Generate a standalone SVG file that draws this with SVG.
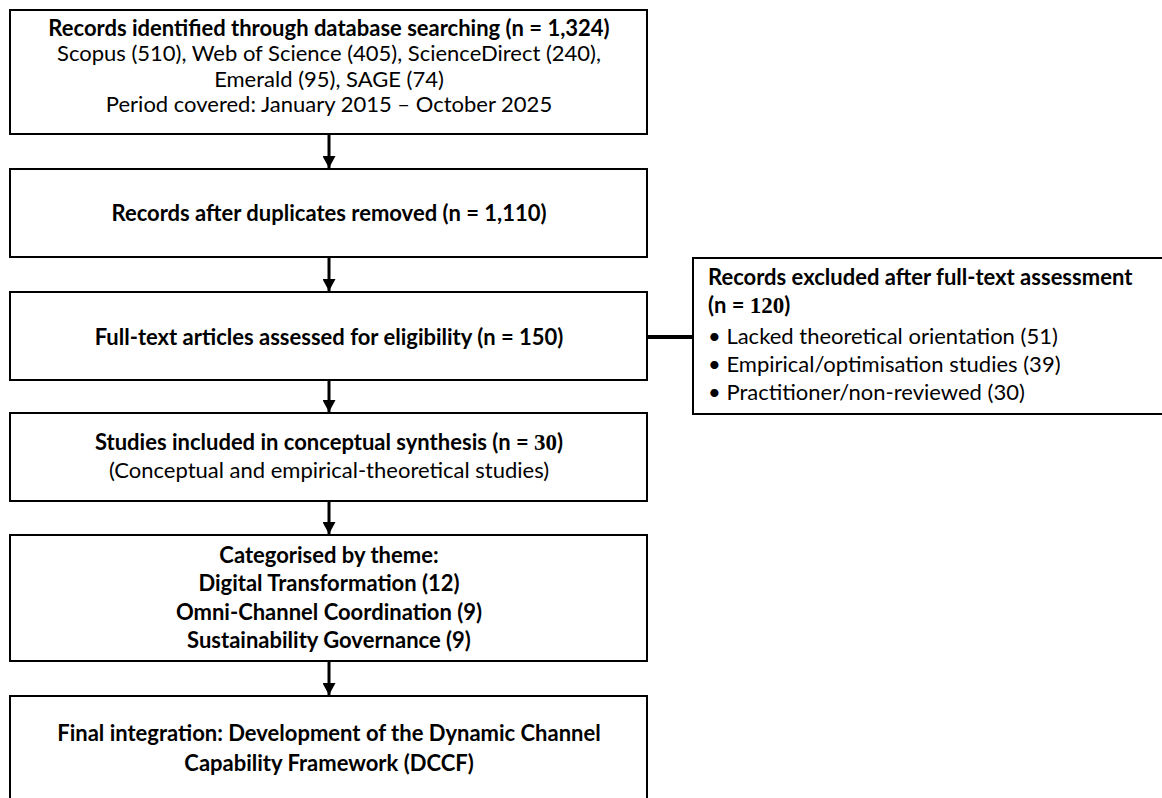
<svg xmlns="http://www.w3.org/2000/svg" width="1162" height="798" viewBox="0 0 1162 798">
<defs>
<style>
.box{fill:#ffffff;stroke:#000000;stroke-width:2}
.t{font-family:Lato,"Liberation Sans",sans-serif;font-size:22px;fill:#000000}
.b{font-weight:bold}
.c{text-anchor:middle}
.num{font-family:"Liberation Serif",serif;font-weight:bold;font-size:23px}
.conn{stroke:#000000;stroke-width:3;fill:none}
</style>
<marker id="ah" viewBox="0 0 12 13" refX="12" refY="6.5" markerWidth="12" markerHeight="13" markerUnits="userSpaceOnUse" orient="auto">
<path d="M0,0 L12,6.5 L0,13 Z" fill="#000000"/>
</marker>
</defs>
<rect width="1162" height="798" fill="#ffffff"/>
<g id="connectors">
<line class="conn" x1="329" y1="135" x2="329" y2="168" marker-end="url(#ah)"/>
<line class="conn" x1="329" y1="258" x2="329" y2="291" marker-end="url(#ah)"/>
<line class="conn" x1="329" y1="381" x2="329" y2="412" marker-end="url(#ah)"/>
<line class="conn" x1="329" y1="502" x2="329" y2="534" marker-end="url(#ah)"/>
<line class="conn" x1="329" y1="662" x2="329" y2="695" marker-end="url(#ah)"/>
<line x1="648" y1="337" x2="692" y2="337" stroke="#000000" stroke-width="4"/>
</g>
<g id="n1">
<rect class="box" x="10" y="10" width="637" height="124"/>
<text class="t b c" x="329" y="36">Records identified through database searching (n = 1,324)</text>
<text class="t c" x="329" y="61">Scopus (510), Web of Science (405), ScienceDirect (240),</text>
<text class="t c" x="329" y="86.5">Emerald (95), SAGE (74)</text>
<text class="t c" x="329" y="112">Period covered: January 2015 – October 2025</text>
</g>
<g id="n2">
<rect class="box" x="10" y="169" width="637" height="88"/>
<text class="t b c" x="329" y="221">Records after duplicates removed (n = 1,110)</text>
</g>
<g id="n3">
<rect class="box" x="10" y="292" width="637" height="88"/>
<text class="t b c" x="329" y="345">Full-text articles assessed for eligibility (n = 150)</text>
</g>
<g id="n4">
<rect class="box" x="10" y="413" width="637" height="88"/>
<text class="t b c" x="329" y="450">Studies included in conceptual synthesis (n = <tspan class="num">30</tspan>)</text>
<text class="t c" x="329" y="478">(Conceptual and empirical-theoretical studies)</text>
</g>
<g id="n5">
<rect class="box" x="10" y="535" width="637" height="126"/>
<text class="t b c" x="329" y="563">Categorised by theme:</text>
<text class="t b c" x="329" y="591">Digital Transformation (12)</text>
<text class="t b c" x="329" y="620">Omni-Channel Coordination (9)</text>
<text class="t b c" x="329" y="648">Sustainability Governance (9)</text>
</g>
<g id="n6">
<rect class="box" x="10" y="696" width="637" height="120"/>
<text class="t b c" x="329" y="741">Final integration: Development of the Dynamic Channel</text>
<text class="t b c" x="329" y="771">Capability Framework (DCCF)</text>
</g>
<g id="n7">
<rect class="box" x="693" y="258" width="480" height="156"/>
<text class="t b" x="708" y="285">Records excluded after full-text assessment</text>
<text class="t b" x="708" y="313">(n = <tspan class="num">120</tspan>)</text>
<text class="t" x="708" y="344">• Lacked theoretical orientation (51)</text>
<text class="t" x="708" y="372">• Empirical/optimisation studies (39)</text>
<text class="t" x="708" y="400">• Practitioner/non-reviewed (30)</text>
</g>
</svg>
